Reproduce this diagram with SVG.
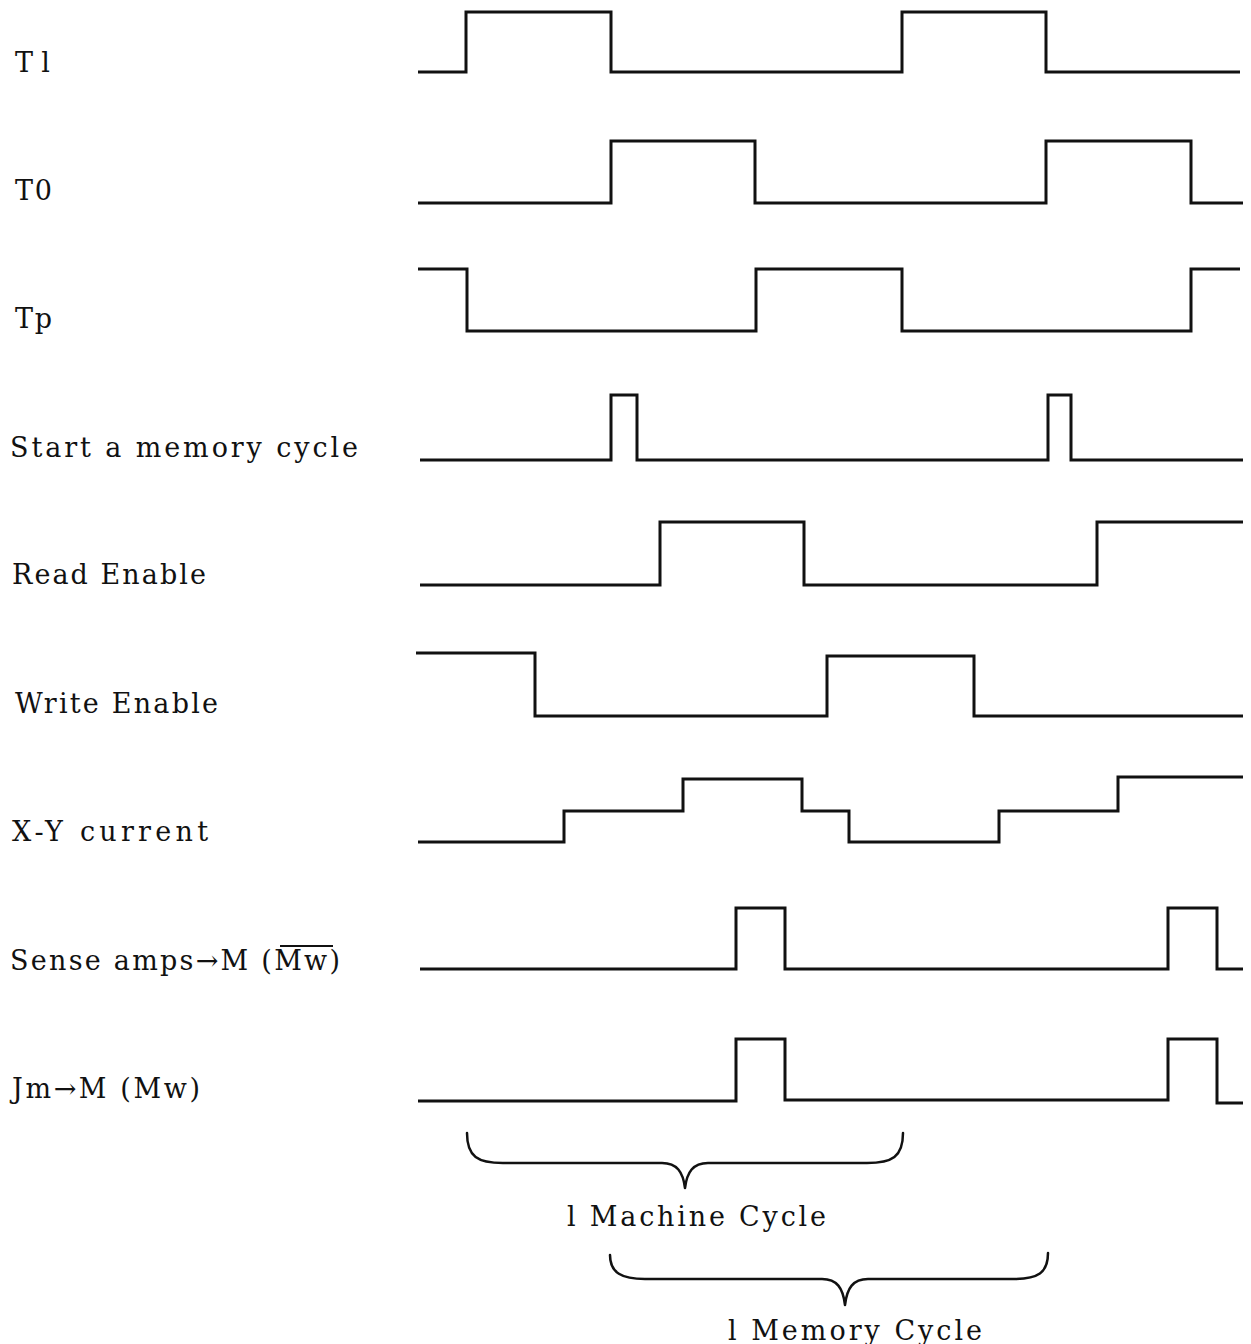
<svg xmlns="http://www.w3.org/2000/svg" width="1251" height="1344" viewBox="0 0 1251 1344">
  <style>
    .wave { fill: none; stroke: #111; stroke-width: 3; stroke-linejoin: miter; stroke-linecap: butt; }
    .brace { fill: none; stroke: #111; stroke-width: 2.5; stroke-linecap: round; stroke-linejoin: round; }
    .lbl { font-family: "DejaVu Serif", "Liberation Serif", serif; font-size: 27px; fill: #111; }
    .bar { stroke: #111; stroke-width: 2; }
  </style>
  <rect width="1251" height="1344" fill="#fff"/>

  <!-- signal names -->
  <g id="labels">
    <text id="lbl-t1" class="lbl" x="15" y="72" textLength="35" lengthAdjust="spacing">Tl</text>
    <text id="lbl-t0" class="lbl" x="15" y="200" textLength="37" lengthAdjust="spacing">T0</text>
    <text id="lbl-tp" class="lbl" x="15" y="328" textLength="37" lengthAdjust="spacing">Tp</text>
    <text id="lbl-start" class="lbl" x="10" y="457" textLength="348" lengthAdjust="spacing">Start a memory cycle</text>
    <text id="lbl-read" class="lbl" x="12" y="584" textLength="194" lengthAdjust="spacing">Read Enable</text>
    <text id="lbl-write" class="lbl" x="15" y="713" textLength="203" lengthAdjust="spacing">Write Enable</text>
    <text id="lbl-xy" class="lbl" x="12" y="841" textLength="196" lengthAdjust="spacing">X-Y current</text>
    <g id="lbl-sense">
      <text class="lbl" x="10" y="970" textLength="330" lengthAdjust="spacing">Sense amps→M (Mw)</text>
      <!-- complement bar over Mw -->
      <line class="bar" x1="280" y1="946" x2="333" y2="946"/>
    </g>
    <text id="lbl-jm" class="lbl" x="12" y="1098" textLength="188" lengthAdjust="spacing">Jm→M (Mw)</text>
  </g>

  <!-- waveforms -->
  <g id="connectors">
    <path id="wave-t1" class="wave" d="M418,72 H466 V12 H611 V72 H902 V12 H1046 V72 H1240"/>
    <path id="wave-t0" class="wave" d="M418,203 H611 V141 H755 V203 H1046 V141 H1191 V203 H1243"/>
    <path id="wave-tp" class="wave" d="M418,269 H467 V331 H756 V269 H902 V331 H1191 V269 H1240"/>
    <path id="wave-start" class="wave" d="M420,460 H611 V395 H637 V460 H1048 V395 H1071 V460 H1243"/>
    <path id="wave-read" class="wave" d="M420,585 H660 V522 H804 V585 H1097 V522 H1243"/>
    <path id="wave-write" class="wave" d="M416,653 H535 V716 H827 V656 H974 V716 H1243"/>
    <path id="wave-xy" class="wave" d="M418,842 H564 V811 H683 V779 H802 V811 H849 V842 H999 V811 H1118 V777 H1243"/>
    <path id="wave-sense" class="wave" d="M420,969 H736 V908 H785 V969 H1168 V908 H1217 V969 H1243"/>
    <path id="wave-jm" class="wave" d="M418,1101 H736 V1039 H785 V1100 H1168 V1039 H1217 V1103 H1243"/>
  </g>

  <!-- cycle spans -->
  <g id="machine-cycle">
    <path class="brace" d="M467,1133 C467,1157 478,1163 503,1163 L662,1163 C677,1163 683,1172 685,1188 C687,1172 693,1163 708,1163 L867,1163 C892,1163 903,1157 903,1133"/>
    <text class="lbl" x="567" y="1226" textLength="259" lengthAdjust="spacing">l Machine Cycle</text>
  </g>
  <g id="memory-cycle">
    <path class="brace" d="M610,1255 C610,1273 622,1279 645,1279 L822,1279 C837,1279 843,1288 845,1305 C847,1288 853,1279 868,1279 L1013,1279 C1038,1279 1048,1273 1048,1253"/>
    <text class="lbl" x="728" y="1340" textLength="254" lengthAdjust="spacing">l Memory Cycle</text>
  </g>
</svg>
